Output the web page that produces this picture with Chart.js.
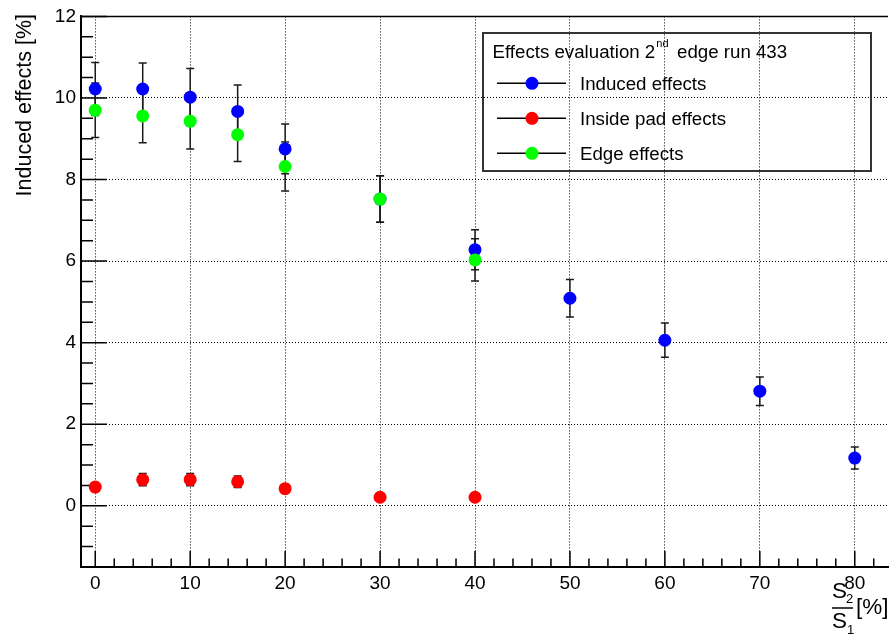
<!DOCTYPE html>
<html>
<head>
<meta charset="utf-8">
<script src="https://cdn.jsdelivr.net/npm/chart.js@4"></script>
<style>
  body { margin: 0; background: #fff; }
  canvas { display: block; }
</style>
</head>
<body>
<canvas id="effectsChart" width="894" height="635"></canvas>
<script>
// S2/S1 ratio [%] for each measurement
const ratios = [0, 5, 10, 15, 20, 30, 40, 50, 60, 70, 80];
const padRatios = [0, 5, 10, 15, 20, 30, 40];

const inducedValues = [10.22, 10.22, 10.02, 9.67, 8.75, 7.52, 6.28, 5.09, 4.06, 2.81, 1.17];
const inducedErrors = [0.65, 0.64, 0.70, 0.65, 0.61, 0.57, 0.49, 0.46, 0.42, 0.35, 0.27];

const insideValues = [0.46, 0.64, 0.64, 0.59, 0.42, 0.21, 0.21];
const insideErrors = [0.08, 0.15, 0.15, 0.14, 0.10, 0.06, 0.06];

const edgeValues = [9.70, 9.56, 9.43, 9.10, 8.32, 7.52, 6.03];
const edgeErrors = [0.67, 0.66, 0.68, 0.66, 0.60, 0.57, 0.52];

const xTickValues = [0, 10, 20, 30, 40, 50, 60, 70, 80];
const yTickValues = [0, 2, 4, 6, 8, 10, 12];
const X_MIN = -1.5, X_MAX = 83.5, X_MINOR = 2;
const Y_MIN = -1.5, Y_MAX = 12, Y_MINOR = 0.5;

const FONT = "'Liberation Sans', Arial, Helvetica, sans-serif";

const series = [
  { label: "Induced effects", x: ratios, y: inducedValues, err: inducedErrors, color: "#0000ff" },
  { label: "Inside pad effects", x: padRatios, y: insideValues, err: insideErrors, color: "#ff0000" },
  { label: "Edge effects", x: padRatios, y: edgeValues, err: edgeErrors, color: "#00ff00" }
];

let datasets = [];
for (let i = 0; i < series.length; i++) {
  let s = series[i];
  let pts = [];
  for (let j = 0; j < s.x.length; j++) {
    pts.push({ x: s.x[j], y: s.y[j] });
  }
  datasets.push({
    label: s.label,
    data: pts,
    showLine: false,
    backgroundColor: s.color,
    borderColor: s.color,
    borderWidth: 0,
    pointRadius: 6.5,
    order: series.length - i   // last series ends up on top
  });
}

// ROOT style frame: inward ticks, error bars, legend box and axis titles
const rootFrame = {
  id: "rootFrame",
  beforeDatasetsDraw(chart) {
    const ctx = chart.ctx;
    const xs = chart.scales.x;
    const ys = chart.scales.y;
    const area = chart.chartArea;

    ctx.save();
    ctx.strokeStyle = "#000";
    ctx.lineWidth = 1.5;
    ctx.beginPath();
    // y ticks
    for (let k = Math.ceil(Y_MIN / Y_MINOR); k * Y_MINOR <= Y_MAX + 1e-9; k++) {
      let v = k * Y_MINOR;
      let py = ys.getPixelForValue(v);
      let len = yTickValues.indexOf(Math.round(v * 100) / 100) !== -1 ? 26 : 12;
      ctx.moveTo(area.left, py);
      ctx.lineTo(area.left + len, py);
    }
    // x ticks
    for (let k = Math.ceil(X_MIN / X_MINOR); k * X_MINOR <= X_MAX + 1e-9; k++) {
      let v = k * X_MINOR;
      let px = xs.getPixelForValue(v);
      let len = xTickValues.indexOf(v) !== -1 ? 16 : 8.5;
      ctx.moveTo(px, area.bottom);
      ctx.lineTo(px, area.bottom - len);
    }
    ctx.stroke();

    // top edge of the frame
    ctx.lineWidth = 1.5;
    ctx.beginPath();
    ctx.moveTo(area.left, area.top);
    ctx.lineTo(area.right, area.top);
    ctx.stroke();

    // error bars
    ctx.strokeStyle = "#1a1a1a";
    ctx.lineWidth = 1.5;
    for (let i = 0; i < series.length; i++) {
      let s = series[i];
      for (let j = 0; j < s.x.length; j++) {
        let px = xs.getPixelForValue(s.x[j]);
        let top = ys.getPixelForValue(s.y[j] + s.err[j]);
        let bot = ys.getPixelForValue(s.y[j] - s.err[j]);
        ctx.beginPath();
        ctx.moveTo(px, top);
        ctx.lineTo(px, bot);
        ctx.moveTo(px - 4, top);
        ctx.lineTo(px + 4, top);
        ctx.moveTo(px - 4, bot);
        ctx.lineTo(px + 4, bot);
        ctx.stroke();
      }
    }
    ctx.restore();
  },

  afterDraw(chart) {
    const ctx = chart.ctx;
    ctx.save();
    ctx.fillStyle = "#000";

    // y axis title
    ctx.save();
    ctx.translate(30.5, 14);
    ctx.rotate(-Math.PI / 2);
    ctx.font = "21.5px " + FONT;
    ctx.textAlign = "right";
    ctx.textBaseline = "alphabetic";
    ctx.fillText("Induced effects [%]", 0, 0);
    ctx.restore();

    // x axis title: S2 / S1 [%]
    ctx.textAlign = "left";
    ctx.textBaseline = "alphabetic";
    ctx.font = "22.5px " + FONT;
    ctx.fillText("S", 832, 598);
    ctx.fillText("S", 832, 628);
    ctx.fillText("[%]", 856, 614);
    ctx.font = "13px " + FONT;
    ctx.fillText("2", 846, 603);
    ctx.fillText("1", 847, 634);
    ctx.lineWidth = 1.5;
    ctx.strokeStyle = "#000";
    ctx.beginPath();
    ctx.moveTo(832, 608);
    ctx.lineTo(853, 608);
    ctx.stroke();

    // legend box
    ctx.strokeStyle = "#333";
    ctx.lineWidth = 2;
    ctx.strokeRect(483, 33, 388, 138);

    ctx.font = "18.7px " + FONT;
    let head = "Effects evaluation 2";
    ctx.fillText(head, 492.5, 57.5);
    let w = ctx.measureText(head).width;
    ctx.font = "11px " + FONT;
    ctx.fillText("nd", 492.5 + w + 1, 47);
    ctx.font = "18.7px " + FONT;
    ctx.fillText("edge run 433", 677, 57.5);

    let rows = [83.3, 118.3, 153.3];
    for (let i = 0; i < series.length; i++) {
      let cy = rows[i];
      ctx.strokeStyle = "#000";
      ctx.lineWidth = 1.5;
      ctx.beginPath();
      ctx.moveTo(497, cy);
      ctx.lineTo(566, cy);
      ctx.stroke();
      ctx.fillStyle = series[i].color;
      ctx.beginPath();
      ctx.arc(532, cy, 6.5, 0, Math.PI * 2);
      ctx.fill();
      ctx.fillStyle = "#000";
      ctx.fillText(series[i].label, 580, cy + 6.7);
    }
    ctx.restore();
  }
};

new Chart(document.getElementById("effectsChart"), {
  type: "scatter",
  data: { datasets: datasets },
  options: {
    responsive: false,
    animation: false,
    events: [],
    layout: { autoPadding: false, padding: { top: 15, right: 6, bottom: 0, left: 0 } },
    plugins: { legend: { display: false }, tooltip: { enabled: false } },
    scales: {
      x: {
        type: "linear",
        min: X_MIN,
        max: X_MAX,
        afterBuildTicks: function (scale) {
          scale.ticks = xTickValues.map(function (v) { return { value: v }; });
        },
        afterFit: function (scale) { scale.height = 68; },
        grid: { color: "#000", lineWidth: 1, drawTicks: false },
        border: { display: true, color: "#000", width: 2, dash: [1, 2] },
        ticks: {
          color: "#000",
          font: { family: FONT, size: 19 },
          padding: 5,
          maxRotation: 0,
          autoSkip: false
        }
      },
      y: {
        type: "linear",
        min: Y_MIN,
        max: Y_MAX,
        afterBuildTicks: function (scale) {
          scale.ticks = yTickValues.map(function (v) { return { value: v }; });
        },
        afterFit: function (scale) { scale.width = 81; },
        grid: { color: "#000", lineWidth: 1, drawTicks: false },
        border: { display: true, color: "#000", width: 2, dash: [1, 2] },
        ticks: {
          color: "#000",
          font: { family: FONT, size: 19 },
          padding: 5,
          autoSkip: false
        }
      }
    }
  },
  plugins: [rootFrame]
});
</script>
</body>
</html>
